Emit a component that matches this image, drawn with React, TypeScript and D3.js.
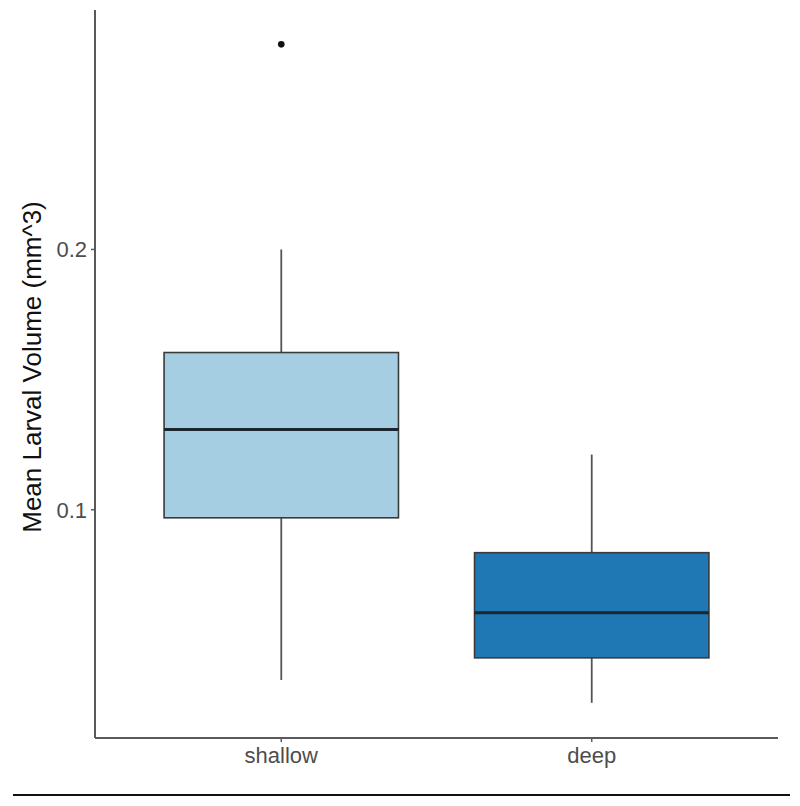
import React from "react";
import * as d3 from "d3";

const categories = ["shallow", "deep"];
const q1 = [0.0969, 0.0431];
const medians = [0.1308, 0.0604];
const q3 = [0.1604, 0.0835];
const whiskerLow = [0.0346, 0.0258];
const whiskerHigh = [0.2, 0.1212];
const outliers = [[0.2788], []];
const fills = ["#a6cee3", "#1f78b4"];
const yTicks = [0.1, 0.2];

export default function App() {
  const W = 800, H = 806;
  const left = 95, right = 778, top = 10, bottom = 738;
  const y = d3.scaleLinear().domain([0.0123, 0.292]).range([bottom, top]);
  const x = d3.scalePoint<string>().domain(categories).range([left, right]).padding(0.6);
  const step = x.step();
  const bw = step * 0.755;
  const axisColor = "#5a5a5a";
  const font = "Liberation Sans, Arial, Helvetica, sans-serif";
  return (
    <svg width={W} height={H} style={{ position: "absolute", left: 0, top: 0 }}>
      <rect width={W} height={H} fill="#fff" />
      {categories.map((c, i) => {
        const cx = x(c)!;
        return (
          <g key={c}>
            <line x1={cx} x2={cx} y1={y(q3[i])} y2={y(whiskerHigh[i])} stroke="#555" strokeWidth={1.8} />
            <line x1={cx} x2={cx} y1={y(q1[i])} y2={y(whiskerLow[i])} stroke="#555" strokeWidth={1.8} />
            <rect x={cx - bw / 2} y={y(q3[i])} width={bw} height={y(q1[i]) - y(q3[i])} fill={fills[i]} stroke="#3a3a3a" strokeWidth={1.6} />
            <line x1={cx - bw / 2} x2={cx + bw / 2} y1={y(medians[i])} y2={y(medians[i])} stroke="#1a2630" strokeWidth={3} />
            {outliers[i].map((o, j) => (
              <circle key={j} cx={cx} cy={y(o)} r={3.3} fill="#111" />
            ))}
          </g>
        );
      })}
      <line x1={left} x2={left} y1={top} y2={bottom} stroke={axisColor} strokeWidth={2} />
      <line x1={left} x2={right} y1={bottom} y2={bottom} stroke={axisColor} strokeWidth={2} />
      {yTicks.map((t) => (
        <g key={t}>
          <line x1={left - 4} x2={left} y1={y(t)} y2={y(t)} stroke={axisColor} strokeWidth={1.5} />
          <text x={left - 8} y={y(t)} dy="0.36em" textAnchor="end" fontFamily={font} fontSize={22} fill="#4d4d4d">
            {t.toFixed(1)}
          </text>
        </g>
      ))}
      {categories.map((c) => (
        <g key={c}>
          <line x1={x(c)!} x2={x(c)!} y1={bottom} y2={bottom + 4} stroke={axisColor} strokeWidth={1.5} />
          <text x={x(c)!} y={bottom + 25} textAnchor="middle" fontFamily={font} fontSize={22} fill="#4d4d4d">
            {c}
          </text>
        </g>
      ))}
      <text transform={`translate(41, 367) rotate(-90)`} textAnchor="middle" fontFamily={font} fontSize={26} fill="#111">
        Mean Larval Volume (mm^3)
      </text>
      <line x1={13} x2={790} y1={795} y2={795} stroke="#111" strokeWidth={2} />
    </svg>
  );
}
